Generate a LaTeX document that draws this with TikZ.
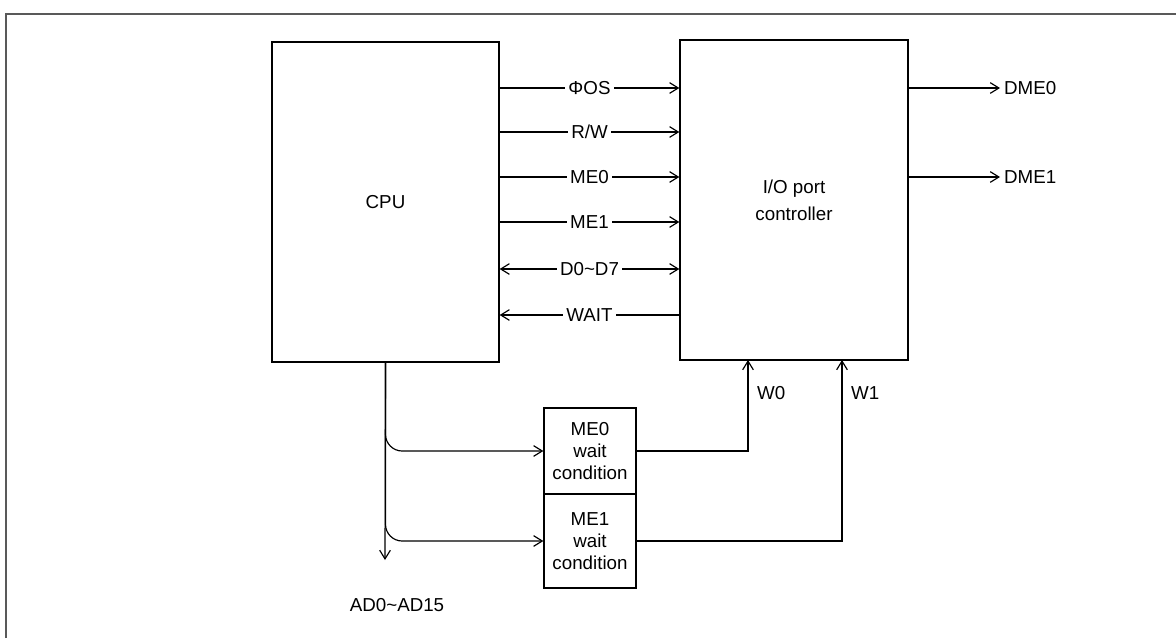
\documentclass[tikz,border=0pt]{standalone}
\usepackage{fontspec}
\setmainfont{Liberation Sans}
\usetikzlibrary{arrows.meta}
\tikzset{
  blk/.style={draw, line width=1.1pt, inner sep=0pt},
  bus/.style={line width=1pt},
  lbl/.style={fill=white, inner sep=3pt}
}
\begin{document}
\begin{tikzpicture}[x=0.03cm, y=-0.03cm, font=\fontsize{16}{19}\selectfont,
  >={Straight Barb[length=2.6mm,width=3.2mm,line width=1pt]}]
    \useasboundingbox (0,0) rectangle (1176,638);
    % Khung ngoài
    \draw[gray!70!black, line width=1.5pt] (6,638) -- (6,14) -- (1176,14);

    % Các khối chính
    \node[blk, minimum width=6.81cm, minimum height=9.6cm] (cpu) at (385.5,202) {CPU};
    \node[blk, minimum width=6.84cm, minimum height=9.6cm, align=center] (io) at (794,200)
      {I/O port\\[4pt]controller};
    \node[blk, minimum width=2.76cm, minimum height=2.58cm, align=center] (wme0) at (590,451)
      {ME0\\wait\\condition};
    \node[blk, minimum width=2.76cm, minimum height=2.82cm, align=center] (wme1) at (590,541)
      {ME1\\wait\\condition};

    % Tín hiệu CPU -> I/O
    \foreach \y/\t in {88/{ΦOS}, 132/{R/W}, 177/{ME0}, 222/{ME1}}
      \draw[bus,->] (cpu.east |- {(0,\y)}) -- (io.west |- {(0,\y)}) node[midway,lbl] {\t};
    \draw[bus,<->] (cpu.east |- {(0,269)}) -- (io.west |- {(0,269)})
      node[midway,lbl] {D0\textasciitilde D7};
    \draw[bus,<-] (cpu.east |- {(0,315)}) -- (io.west |- {(0,315)}) node[midway,lbl] {WAIT};

    % Đầu ra DME
    \node[anchor=west] (dme0) at (1000,88) {DME0};
    \node[anchor=west] (dme1) at (1000,177) {DME1};
    \draw[bus,->] (io.east |- dme0) -- (dme0.west);
    \draw[bus,->] (io.east |- dme1) -- (dme1.west);

    % Bus địa chỉ
    \coordinate (adend) at (385,560);
    \node (ad) at (397,605) {AD0\textasciitilde AD15};
    \draw[bus,->] (cpu.south) -- (adend);
    \draw[bus,->,rounded corners=0.5cm] (cpu.south) |- (wme0.west);
    \draw[bus,->,rounded corners=0.5cm] (cpu.south) |- (wme1.west);

    % Tín hiệu W0, W1
    \coordinate (w0) at (748,360);
    \coordinate (w1) at (842,360);
    \draw[bus,->] (wme0.east) -| (w0) node[pos=0.82,right=4pt] {W0};
    \draw[bus,->] (wme1.east) -| (w1) node[pos=0.91,right=4pt] {W1};
\end{tikzpicture}
\end{document}
